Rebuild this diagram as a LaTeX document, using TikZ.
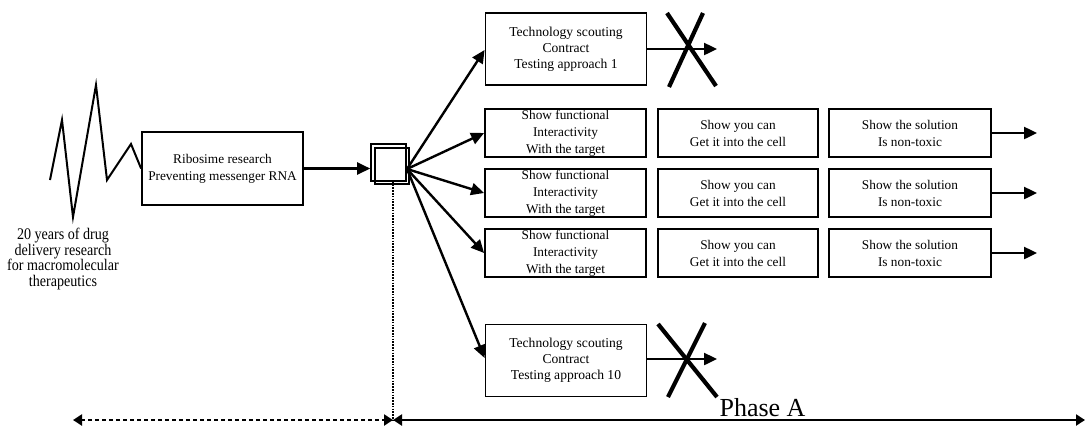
\documentclass[tikz,border=0pt]{standalone}
\usepackage{fontspec}
\setmainfont{Liberation Serif}
\newfontfamily\narrowserif[FakeStretch=0.87]{Liberation Serif}
\usetikzlibrary{arrows.meta}
\tikzset{
  box/.style={draw, line width=1.8pt, inner sep=0pt, align=center,
    minimum width=161pt, minimum height=48pt, font=\fontsize{13.3}{17}\selectfont},
  scoutbox/.style={box, minimum height=72pt, font=\fontsize{13.6}{16}\selectfont},
  flow/.style={line width=2.4pt, -{Triangle[length=13pt,width=12pt]}},
  cross/.style={line width=4.2pt},
  tinysq/.style={draw, line width=1.6pt, inner sep=0pt},
  axis/.style={line width=2.2pt, {Triangle[length=9pt,width=11pt]}-{Triangle[length=9pt,width=11pt]}},
}
\begin{document}
\begin{tikzpicture}[x=1pt, y=-1pt]
\useasboundingbox (0,0) rectangle (1086,429);

% origin of the work: research history and first project
\node[box, minimum width=161pt, minimum height=73pt] (rib) at (222.5,168.5)
  {Ribosime research\\Preventing messenger RNA};
\draw[line width=2pt, line join=miter]
  (50,180) -- (62,120) -- (73,217) -- (96,85) -- (107,180) -- (131,144) -- (rib.west);
\node[align=center, font=\narrowserif\fontsize{16.2}{15.6}\selectfont] (hist) at (63,259)
  {20 years of drug\\delivery research\\for macromolecular\\therapeutics};

% decision point
\node[tinysq, minimum width=35pt, minimum height=37pt] (sqa) at (388.5,162.5) {};
\node[tinysq, minimum width=34pt, minimum height=36pt] (sqb) at (392,166) {};
\coordinate (fan) at (407,169);
\draw[flow] (rib.east) -- (sqa.west |- rib.east);

% parallel approaches
\node[scoutbox] (t1) at (566,49)
  {Technology scouting\\Contract\\Testing approach 1};
\node[scoutbox] (t10) at (566,360.5)
  {Technology scouting\\Contract\\Testing approach 10};

\foreach \r/\y in {1/133, 2/193, 3/253} {
  \node[box] (f\r) at (565.5,\y) {Show functional\\Interactivity\\With the target};
  \node[box, minimum width=160pt] (c\r) at (738,\y) {Show you can\\Get it into the cell};
  \node[box, minimum width=162pt] (n\r) at (910,\y) {Show the solution\\Is non-toxic};
  \coordinate (o\r) at (1037,\y);
  \draw[flow] (n\r.east) -- (o\r);
}

\draw[flow] (fan) -- (t1.west |- 0,50);
\draw[flow] (fan) -- (f1.west);
\draw[flow] (fan) -- (f2.west);
\draw[flow] (fan) -- (f3.west);
\draw[flow] (fan) -- (t10.west |- 0,358);

% dropped approaches
\coordinate (e1) at (717,49);
\coordinate (e10) at (717,359);
\draw[flow] (t1.east |- e1) -- (e1);
\draw[flow] (t10.east |- e10) -- (e10);
\draw[cross] (667,13) -- (716,86);
\draw[cross] (703,13) -- (669,87);
\draw[cross] (658,324) -- (717,397);
\draw[cross] (705,323) -- (668,397);

% time line
\coordinate (tick) at (393,420);
\coordinate (lend) at (73,420);
\coordinate (rend) at (1085,420);
\draw[line width=1.8pt, dash pattern=on 1.6pt off 1.2pt] (sqa.south -| tick) -- (tick);
\draw[axis, dash pattern=on 4pt off 3pt] (lend) -- (tick);
\draw[axis] (tick) -- (rend);
\node[anchor=base, font=\fontsize{26}{28}\selectfont, inner sep=0pt] (phase) at (762.5,416.5) {Phase A};
\end{tikzpicture}
\end{document}
